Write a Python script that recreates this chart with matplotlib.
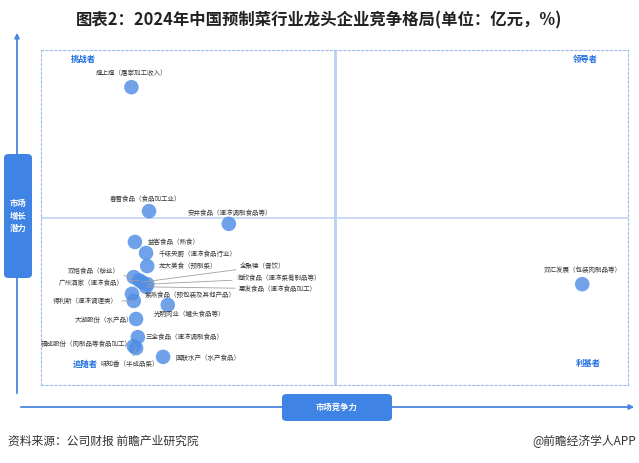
import matplotlib.pyplot as plt
from matplotlib.patches import FancyBboxPatch, FancyArrowPatch

plt.rcParams['font.family'] = ['Noto Sans CJK SC', 'DejaVu Sans']

# 公司（业务） / 市场竞争力 / 市场增长潜力 (相对得分, 0-100)
companies = [
    '煌上煌（屠宰加工收入）', '春雪食品（食品加工业）', '安井食品（速冻调制食品等）',
    '益客食品（熟食）', '千味央厨（速冻食品行业）', '龙大美食（预制菜）',
    '双塔食品（粉丝）', '广州酒家（速冻食品）', '全聚德（餐饮）',
    '海欣食品（速冻菜肴制品等）', '惠发食品（速冻食品加工）', '紫燕食品（预包装及其他产品）',
    '得利斯（速冻调理类）', '光明肉业（罐头食品等）', '大湖股份（水产品）',
    '三全食品（速冻调制食品）', '福成股份（肉制品等食品加工）', '味知香（半成品菜）',
    '国联水产（水产食品）', '双汇发展（包装肉制品等）',
]
competitiveness = [15.4, 18.4, 32.0, 16.0, 17.9, 18.1, 15.8, 16.7, 17.2, 18.1,
                   17.9, 15.5, 15.8, 21.6, 16.2, 16.5, 15.8, 16.2, 20.8, 92.2]
growth = [88.9, 51.9, 48.1, 42.7, 39.4, 35.5, 32.2, 31.3, 30.7, 30.1,
          29.3, 27.2, 25.1, 23.9, 19.7, 14.3, 11.6, 11.0, 8.4, 30.1]

# 标签偏移 (像素) 与对齐方式, 是否画引线
label_pos = [
    (0, 14, 'center', True), (-4, 12, 'center', False), (1, 11, 'center', False),
    (13, 0, 'left', False), (13, -1, 'left', False), (12, 0, 'left', False),
    (-14, 6, 'right', True), (-15, -3, 'right', True), (98, 16, 'left', True),
    (89, 6, 'left', True), (93, -2, 'left', True), (13, -1, 'left', False),
    (-16, 0, 'right', True), (22, -9, 'center', True), (-3, -1, 'right', False),
    (8, 0, 'left', False), (-2, 2, 'right', False), (-6, -16, 'center', True),
    (12, -1, 'left', False), (1, 14, 'center', True),
]

quadrants = ['挑战者', '领导者', '追随者', '利基者']
quad_xy = [(7.2, 97.3), (92.8, 97.3), (7.5, 6.3), (93.3, 6.3)]

W, H = 639, 463
fig = plt.figure(figsize=(W / 100, H / 100), dpi=100)
ax = fig.add_axes([41 / W, 1 - 385 / H, 587 / W, 335 / H])
ax.set_xlim(0, 100)
ax.set_ylim(0, 100)
ax.set_xticks([])
ax.set_yticks([])
for s in ax.spines.values():
    s.set_color('#9dbbec')
    s.set_linewidth(0.8)
    s.set_linestyle((0, (2, 2)))

ax.axvline(50, color='#b9d0f3', lw=2, zorder=1)
ax.axhline(50, color='#b9d0f3', lw=1.1, zorder=1)

ax.scatter(competitiveness, growth, s=110, color='#4f8ee6', alpha=0.82,
           edgecolors='none', zorder=3)

for name, x, y, (dx, dy, ha, line) in zip(companies, competitiveness, growth, label_pos):
    ax.annotate(name, (x, y), xytext=(dx, dy), textcoords='offset pixels',
                ha=ha, va='center', fontsize=4.7, color='#3a3a3a', zorder=4,
                arrowprops=dict(arrowstyle='-', color='#a0a0a0', lw=0.6,
                                shrinkA=1, shrinkB=0) if line else None)

for q, (qx, qy) in zip(quadrants, quad_xy):
    ax.text(qx, qy, q, ha='center', va='center', fontsize=6, fontweight='bold',
            color='#1f6fe0')

# 坐标轴箭头
arrow_c = '#4a86e0'
fig.add_artist(FancyArrowPatch((17 / W, 1 - 396 / H), (17 / W, 1 - 30 / H),
                               transform=fig.transFigure, arrowstyle='-|>',
                               mutation_scale=7, color=arrow_c, lw=1.3))
fig.add_artist(FancyArrowPatch((18 / W, 1 - 407 / H), (637 / W, 1 - 407 / H),
                               transform=fig.transFigure, arrowstyle='-|>',
                               mutation_scale=7, color=arrow_c, lw=1.3))

box_c = '#3f84e5'
fig.add_artist(FancyBboxPatch((4 / W, 1 - 278 / H), 28 / W, 124 / H,
                              boxstyle='round,pad=0,rounding_size=0.008',
                              transform=fig.transFigure, fc=box_c, ec='none'))
fig.text(18 / W, 1 - 216 / H, '市场\n增长\n潜力', ha='center', va='center',
         fontsize=6, fontweight='bold', color='white', linespacing=1.5)
fig.add_artist(FancyBboxPatch((282 / W, 1 - 421 / H), 110 / W, 27 / H,
                              boxstyle='round,pad=0,rounding_size=0.008',
                              transform=fig.transFigure, fc=box_c, ec='none'))
fig.text(337 / W, 1 - 407.5 / H, '市场竞争力', ha='center', va='center',
         fontsize=6, fontweight='bold', color='white')

fig.text(0.5, 1 - 20 / H, '图表2：2024年中国预制菜行业龙头企业竞争格局(单位：亿元，%)',
         ha='center', va='center', fontsize=11.8, fontweight='bold', color='#222222')
fig.text(8 / W, 1 - 441 / H, '资料来源：公司财报 前瞻产业研究院', ha='left', va='center',
         fontsize=8.5, color='#333333')
fig.text(636 / W, 1 - 441 / H, '@前瞻经济学人APP', ha='right', va='center',
         fontsize=8.5, color='#333333')

fig.savefig('out.png', dpi=100)
